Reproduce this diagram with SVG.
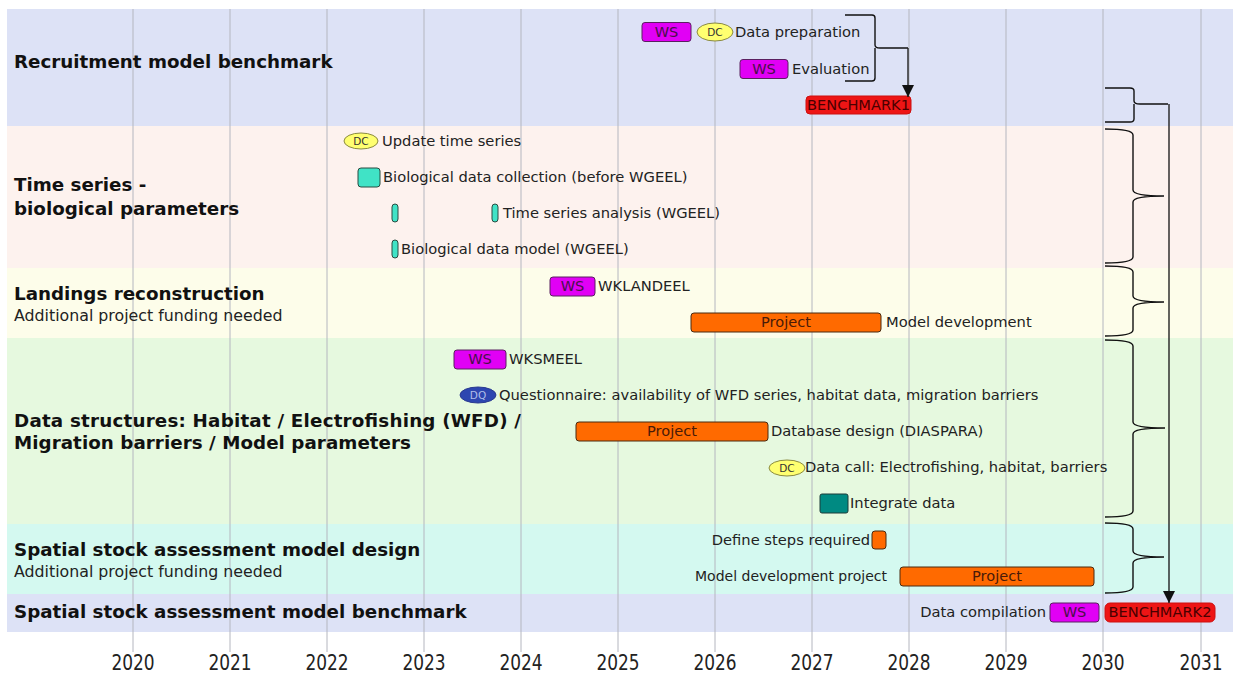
<svg xmlns="http://www.w3.org/2000/svg" width="1233" height="673" viewBox="0 0 1233 673">
<defs>
<style>
.band{stroke:none}
.grid{stroke:#b4b6bf;stroke-width:1}
.lbl{font-family:"DejaVu Sans",Verdana,sans-serif;font-weight:bold;font-size:18.3px;fill:#111}
.sub{font-family:"DejaVu Sans",Verdana,sans-serif;font-size:15.8px;fill:#222}
.it{font-family:"DejaVu Sans",Verdana,sans-serif;font-size:14.7px;fill:#222}
.yr{font-family:"DejaVu Sans",Verdana,sans-serif;font-size:17px;fill:#222;text-anchor:middle}
.ws{fill:#e100f5;stroke:#5a2060;stroke-width:1}
.proj{fill:#ff6a00;stroke:#4a2a10;stroke-width:1}
.bm{fill:#ee1515;stroke:#cc1010;stroke-width:1}
.dc{fill:#ffff70;stroke:#8a8a40;stroke-width:1}
.dq{fill:#2d46b0;stroke:#2a3a90;stroke-width:1}
.tq{fill:#40e3c6;stroke:#2a4a40;stroke-width:1}
.tq2{fill:#008a82;stroke:#1d3a38;stroke-width:1}
.bt{font-family:"DejaVu Sans",Verdana,sans-serif;font-size:14.6px;text-anchor:middle}
.et{font-family:"DejaVu Sans",Verdana,sans-serif;font-size:10.5px;text-anchor:middle}
.brace{fill:none;stroke:#111;stroke-width:1.4}
.arrow{fill:none;stroke:#222;stroke-width:1.4}
</style>
<marker id="ah" markerUnits="userSpaceOnUse" markerWidth="12" markerHeight="12" viewBox="0 0 10 10" refX="10" refY="5" orient="auto">
<path d="M0,0 L10,5 L0,10 z" fill="#111"/>
</marker>
</defs>

<g id="bands">
<rect class="band" x="7" y="9" width="1226" height="117" fill="#dde2f6"/>
<rect class="band" x="7" y="126" width="1226" height="142" fill="#fdf2ee"/>
<rect class="band" x="7" y="268" width="1226" height="70" fill="#fdfdea"/>
<rect class="band" x="7" y="338" width="1226" height="186" fill="#e6f9df"/>
<rect class="band" x="7" y="524" width="1226" height="70" fill="#d4f9f0"/>
<rect class="band" x="7" y="594" width="1226" height="38" fill="#dde2f6"/>
</g>

<g id="grid">
<line class="grid" x1="133" y1="9" x2="133" y2="652"/>
<line class="grid" x1="230" y1="9" x2="230" y2="652"/>
<line class="grid" x1="327" y1="9" x2="327" y2="652"/>
<line class="grid" x1="424" y1="9" x2="424" y2="652"/>
<line class="grid" x1="521" y1="9" x2="521" y2="652"/>
<line class="grid" x1="618" y1="9" x2="618" y2="652"/>
<line class="grid" x1="715" y1="9" x2="715" y2="652"/>
<line class="grid" x1="812" y1="9" x2="812" y2="652"/>
<line class="grid" x1="909" y1="9" x2="909" y2="652"/>
<line class="grid" x1="1006" y1="9" x2="1006" y2="652"/>
<line class="grid" x1="1103" y1="9" x2="1103" y2="652"/>
<line class="grid" x1="1201" y1="9" x2="1201" y2="652"/>
</g>

<g id="axis">
<text class="yr" transform="translate(133,670) scale(1,1.2)">2020</text>
<text class="yr" transform="translate(230,670) scale(1,1.2)">2021</text>
<text class="yr" transform="translate(327,670) scale(1,1.2)">2022</text>
<text class="yr" transform="translate(424,670) scale(1,1.2)">2023</text>
<text class="yr" transform="translate(521,670) scale(1,1.2)">2024</text>
<text class="yr" transform="translate(618,670) scale(1,1.2)">2025</text>
<text class="yr" transform="translate(715,670) scale(1,1.2)">2026</text>
<text class="yr" transform="translate(812,670) scale(1,1.2)">2027</text>
<text class="yr" transform="translate(909,670) scale(1,1.2)">2028</text>
<text class="yr" transform="translate(1006,670) scale(1,1.2)">2029</text>
<text class="yr" transform="translate(1103,670) scale(1,1.2)">2030</text>
<text class="yr" transform="translate(1201,670) scale(1,1.2)">2031</text>
</g>

<g id="labels">
<text class="lbl" x="14" y="68">Recruitment model benchmark</text>
<text class="lbl" x="14" y="191">Time series -</text>
<text class="lbl" x="14" y="215">biological parameters</text>
<text class="lbl" x="14" y="300">Landings reconstruction</text>
<text class="sub" x="14" y="321">Additional project funding needed</text>
<text class="lbl" x="14" y="427" textLength="507" lengthAdjust="spacing">Data structures: Habitat / Electrofishing (WFD) /</text>
<text class="lbl" x="14" y="449" textLength="397" lengthAdjust="spacing">Migration barriers / Model parameters</text>
<text class="lbl" x="14" y="556">Spatial stock assessment model design</text>
<text class="sub" x="14" y="577">Additional project funding needed</text>
<text class="lbl" x="14" y="618">Spatial stock assessment model benchmark</text>
</g>

<g id="ws-data-prep">
<rect class="ws" x="642" y="22.5" width="49" height="19" rx="3"/>
<text class="bt" x="666.5" y="37" fill="#4a104a">WS</text>
<ellipse class="dc" cx="715" cy="32" rx="18" ry="9"/>
<text class="et" x="715" y="36" fill="#333">DC</text>
<text class="it" x="735" y="37">Data preparation</text>
</g>
<g id="ws-evaluation">
<rect class="ws" x="740" y="59.5" width="48" height="19" rx="3"/>
<text class="bt" x="764" y="74" fill="#4a104a">WS</text>
<text class="it" x="792" y="74">Evaluation</text>
</g>
<g id="benchmark1">
<rect class="bm" x="806" y="96" width="105" height="18" rx="4"/>
<text class="bt" x="858.5" y="110" fill="#4a0000">BENCHMARK1</text>
</g>

<g id="update-time-series">
<ellipse class="dc" cx="361" cy="141" rx="17" ry="8"/>
<text class="et" x="361" y="145" fill="#333">DC</text>
<text class="it" x="382" y="146">Update time series</text>
</g>
<g id="bio-data-collection">
<rect class="tq" x="358" y="168" width="22" height="19" rx="3"/>
<text class="it" x="383" y="182">Biological data collection (before WGEEL)</text>
</g>
<g id="time-series-analysis">
<rect class="tq" x="392" y="204" width="6" height="18" rx="3"/>
<rect class="tq" x="492" y="204" width="6" height="18" rx="3"/>
<text class="it" x="503" y="218">Time series analysis (WGEEL)</text>
</g>
<g id="bio-data-model">
<rect class="tq" x="392" y="240" width="6" height="18" rx="3"/>
<text class="it" x="401" y="254">Biological data model (WGEEL)</text>
</g>

<g id="wklandeel">
<rect class="ws" x="550" y="277" width="45" height="19" rx="3"/>
<text class="bt" x="572.5" y="291" fill="#4a104a">WS</text>
<text class="it" x="598" y="291">WKLANDEEL</text>
</g>
<g id="model-development">
<rect class="proj" x="691" y="313" width="190" height="19" rx="3"/>
<text class="bt" x="786" y="327" fill="#4a1a08">Project</text>
<text class="it" x="886" y="327">Model development</text>
</g>

<g id="wksmeel">
<rect class="ws" x="454" y="350" width="52" height="19" rx="3"/>
<text class="bt" x="480" y="364" fill="#4a104a">WS</text>
<text class="it" x="509" y="364">WKSMEEL</text>
</g>
<g id="questionnaire">
<ellipse class="dq" cx="478" cy="395" rx="18" ry="8"/>
<text class="et" x="478" y="399" fill="#b0bde8">DQ</text>
<text class="it" x="499" y="400">Questionnaire: availability of WFD series, habitat data, migration barriers</text>
</g>
<g id="database-design">
<rect class="proj" x="576" y="422" width="192" height="19" rx="3"/>
<text class="bt" x="672" y="436" fill="#4a1a08">Project</text>
<text class="it" x="771" y="436">Database design (DIASPARA)</text>
</g>
<g id="data-call">
<ellipse class="dc" cx="787" cy="468" rx="18" ry="8"/>
<text class="et" x="787" y="472" fill="#333">DC</text>
<text class="it" x="805" y="472">Data call: Electrofishing, habitat, barriers</text>
</g>
<g id="integrate-data">
<rect class="tq2" x="820" y="494" width="28" height="19" rx="2"/>
<text class="it" x="850" y="508">Integrate data</text>
</g>

<g id="define-steps">
<text class="it" x="870" y="545" text-anchor="end">Define steps required</text>
<rect class="proj" x="872" y="531" width="14" height="18" rx="3"/>
</g>
<g id="model-dev-project">
<text class="it" x="695" y="581" textLength="192" lengthAdjust="spacingAndGlyphs">Model development project</text>
<rect class="proj" x="900" y="567" width="194" height="19" rx="3"/>
<text class="bt" x="997" y="581" fill="#4a1a08">Project</text>
</g>

<g id="data-compilation">
<text class="it" x="1046" y="617" text-anchor="end">Data compilation</text>
<rect class="ws" x="1050" y="603" width="49" height="19" rx="3"/>
<text class="bt" x="1074.5" y="617" fill="#4a104a">WS</text>
</g>
<g id="benchmark2">
<rect class="bm" x="1105" y="603" width="110" height="19" rx="5"/>
<text class="bt" x="1160" y="617" fill="#4a0000">BENCHMARK2</text>
</g>

<g id="connectors">
<path class="brace" d="M845,15 L872,15 Q875,15 875,18 L875,45 Q875,48 880,48 L908,48 M875,48 L875,78 Q875,81 872,81 L845,81"/>
<line class="arrow" x1="908" y1="48" x2="908" y2="97" marker-end="url(#ah)"/>
<path class="brace" d="M1105,88 L1130,88 Q1134,88 1134,91 L1134,101 Q1134,104 1140,104 L1168,104 M1134,104 L1134,119 Q1134,122 1130,122 L1105,122"/>
<line class="arrow" x1="1169" y1="104" x2="1169" y2="603" marker-end="url(#ah)"/>
<path class="brace" d="M1105,129 Q1133,129 1133,135 L1133,190 Q1133,196 1164,196 Q1133,196 1133,202 L1133,257 Q1133,263 1105,263"/>
<path class="brace" d="M1105,266 Q1133,266 1133,272 L1133,296 Q1133,302 1164,302 Q1133,302 1133,308 L1133,330 Q1133,336 1105,336"/>
<path class="brace" d="M1105,340 Q1133,340 1133,346 L1133,422 Q1133,428 1165,428 Q1133,428 1133,434 L1133,511 Q1133,517 1105,517"/>
<path class="brace" d="M1105,523 Q1133,523 1133,529 L1133,551 Q1133,557 1164,557 Q1133,557 1133,563 L1133,587 Q1133,593 1105,593"/>
</g>
</svg>
